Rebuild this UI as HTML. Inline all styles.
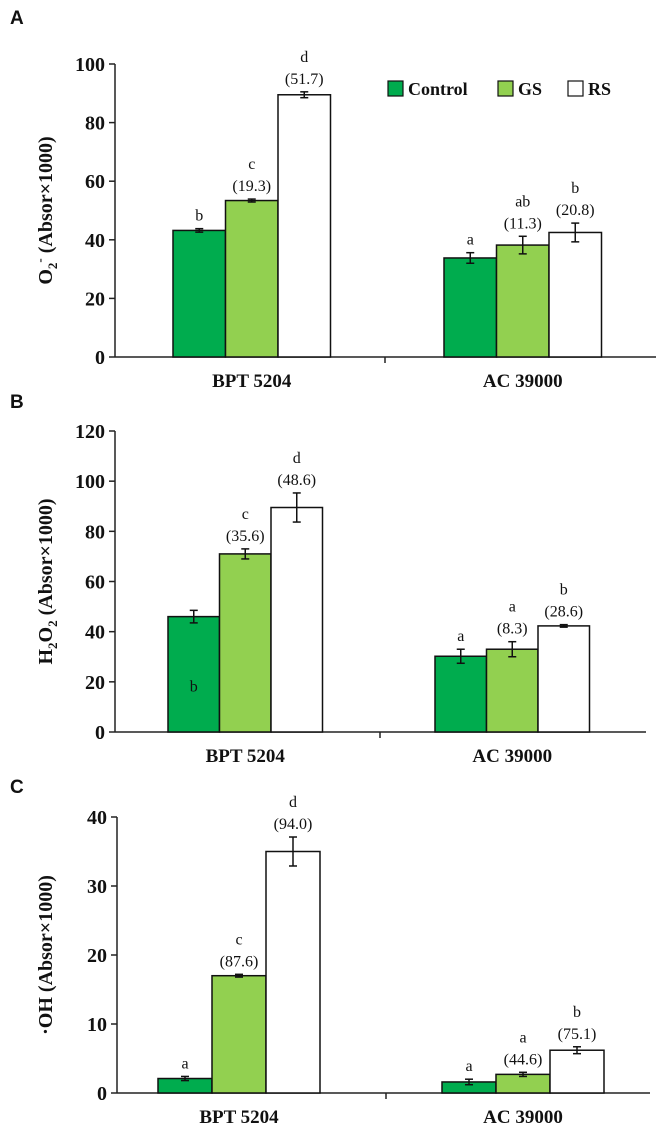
<!DOCTYPE html>
<html><head><meta charset="utf-8"><style>
body{margin:0;background:#fff;}
svg{display:block;font-family:"Liberation Serif",serif;}
</style></head><body>
<svg id="fig" width="661" height="1135" viewBox="0 0 661 1135"></svg>
<script>
const categories = ["BPT 5204", "AC 39000"];
const seriesNames = ["Control", "GS", "RS"];
const colors = ["#00AC4E", "#92D050", "#ffffff"];
// Panel A (O2-)
const aValues = [[43.2, 33.8], [53.4, 38.2], [89.5, 42.5]];
const aErrors = [[0.6, 1.8], [0.5, 3.0], [1.0, 3.2]];
const aLetters = [["b", "a"], ["c", "ab"], ["d", "b"]];
const aPct = [["", ""], ["(19.3)", "(11.3)"], ["(51.7)", "(20.8)"]];
const aTicks = [0, 20, 40, 60, 80, 100];
// Panel B (H2O2)
const bValues = [[46, 30.2], [71, 33], [89.5, 42.3]];
const bErrors = [[2.5, 2.8], [2.0, 3.0], [5.8, 0.5]];
const bLetters = [["b", "a"], ["c", "a"], ["d", "b"]];
const bPct = [["", ""], ["(35.6)", "(8.3)"], ["(48.6)", "(28.6)"]];
const bTicks = [0, 20, 40, 60, 80, 100, 120];
// Panel C (OH)
const cValues = [[2.1, 1.6], [17, 2.7], [35, 6.2]];
const cErrors = [[0.3, 0.4], [0.2, 0.3], [2.1, 0.5]];
const cLetters = [["a", "a"], ["c", "a"], ["d", "b"]];
const cPct = [["", ""], ["(87.6)", "(44.6)"], ["(94.0)", "(75.1)"]];
const cTicks = [0, 10, 20, 30, 40];

const svg = document.getElementById('fig');
const NS = 'http://www.w3.org/2000/svg';
function mk(tag, attrs, parent, name, inter) {
  const e = document.createElementNS(NS, tag);
  for (const k in attrs) e.setAttribute(k, attrs[k]);
  
  
  (parent || svg).appendChild(e);
  return e;
}
function txt(x, y, s, size, weight, anchor, name, parent) {
  const t = mk('text', {x: x, y: y, 'font-size': size, 'font-weight': weight, 'text-anchor': anchor || 'middle', fill: '#111'}, parent, name, false);
  t.textContent = s;
  return t;
}

function panel(p) {
  const g = mk('g', {}, svg, 'panel-' + p.id, false);
  const yS = v => p.y0 - (v - 0) / p.max * (p.y0 - p.yTop);
  txt(p.lx, p.ly, p.id, 19, 'bold', 'start', 'panel-label-' + p.id, g).setAttribute('font-family', 'Liberation Sans, sans-serif');
  mk('line', {x1: p.ax, y1: p.yTop, x2: p.ax, y2: p.y0, stroke: '#222', 'stroke-width': 1.5}, g, 'y-axis', false);
  mk('line', {x1: p.ax, y1: p.y0, x2: p.axEnd, y2: p.y0, stroke: '#222', 'stroke-width': 1.5}, g, 'x-axis', false);
  mk('line', {x1: p.mid, y1: p.y0, x2: p.mid, y2: p.y0 + 6, stroke: '#222', 'stroke-width': 1.5}, g, 'x-axis-divider-tick', false);
  p.ticks.forEach(t => {
    const y = yS(t);
    mk('line', {x1: p.ax - 6, y1: y, x2: p.ax, y2: y, stroke: '#222', 'stroke-width': 1.5}, g, 'y-tick', false);
    txt(p.ax - 10, y + 7, String(t), 20, 'bold', 'end', 'y-tick-label', g);
  });
  const tt = mk('text', {transform: `translate(${p.tx},${(p.yTop + p.y0) / 2}) rotate(-90)`, 'font-size': 20, 'font-weight': 'bold', 'text-anchor': 'middle', fill: '#111'}, g, 'y-axis-title', false);
  tt.innerHTML = p.title;
  categories.forEach((c, ci) => {
    const bw = p.bw;
    const start = p.starts[ci];
    seriesNames.forEach((s, si) => {
      const v = p.values[si][ci], e = p.errors[si][ci];
      const x = start + si * bw, y = yS(v);
      mk('rect', {x: x, y: y, width: bw, height: p.y0 - y, fill: colors[si], stroke: '#111', 'stroke-width': 1.5}, g, 'bar-' + s.toLowerCase() + '-' + ci, false);
      const cx = x + bw / 2, yh = yS(v + e), yl = yS(v - e);
      mk('line', {x1: cx, y1: yh, x2: cx, y2: yl, stroke: '#111', 'stroke-width': 1.5}, g, 'error-bar', false);
      mk('line', {x1: cx - 4, y1: yh, x2: cx + 4, y2: yh, stroke: '#111', 'stroke-width': 1.5}, g, 'error-cap', false);
      mk('line', {x1: cx - 4, y1: yl, x2: cx + 4, y2: yl, stroke: '#111', 'stroke-width': 1.5}, g, 'error-cap', false);
      const pct = p.pct[si][ci];
      const top = yh - 8;
      if (p.id === 'B' && si === 0 && ci === 0) {
        txt(cx, yS(v) + 75, p.letters[si][ci], 16, 'normal', 'middle', 'significance-letter', g);
      } else if (pct) {
        txt(cx, top, pct, 16, 'normal', 'middle', 'percent-change-label', g);
        txt(cx, top - 22, p.letters[si][ci], 16, 'normal', 'middle', 'significance-letter', g);
      } else {
        txt(cx, top, p.letters[si][ci], 16, 'normal', 'middle', 'significance-letter', g);
      }
    });
    txt(start + 1.5 * bw, p.y0 + 30, c, 19, 'bold', 'middle', 'x-category-label', g);
  });
}

panel({id: 'A', lx: 10, ly: 24, ax: 115, axEnd: 656, mid: 385, yTop: 64, y0: 357, max: 100, ticks: aTicks,
  values: aValues, errors: aErrors, letters: aLetters, pct: aPct, starts: [173, 444], bw: 52.5, tx: 52,
  title: 'O<tspan font-size="13" dy="5">2</tspan><tspan font-size="13" dy="-13">-</tspan><tspan dy="8"> (Absor×1000)</tspan>'});
panel({id: 'B', lx: 10, ly: 408, ax: 115, axEnd: 646, mid: 380, yTop: 431, y0: 732, max: 120, ticks: bTicks,
  values: bValues, errors: bErrors, letters: bLetters, pct: bPct, starts: [168, 435], bw: 51.5, tx: 52,
  title: 'H<tspan font-size="13" dy="5">2</tspan><tspan dy="-5">O</tspan><tspan font-size="13" dy="5">2</tspan><tspan dy="-5"> (Absor×1000)</tspan>'});
panel({id: 'C', lx: 10, ly: 793, ax: 117, axEnd: 650, mid: 386, yTop: 817, y0: 1093, max: 40, ticks: cTicks,
  values: cValues, errors: cErrors, letters: cLetters, pct: cPct, starts: [158, 442], bw: 54, tx: 52,
  title: '·OH (Absor×1000)'});

const lg = mk('g', {}, svg, 'legend', false);
const lx = [388, 498, 568], ll = ['Control', 'GS', 'RS'];
ll.forEach((s, i) => {
  mk('rect', {x: lx[i], y: 81, width: 15, height: 15, fill: colors[i], stroke: '#111', 'stroke-width': 1.2}, lg, 'legend-swatch-' + s.toLowerCase(), false);
  txt(lx[i] + 20, 95, s, 18, 'bold', 'start', 'legend-entry-' + s.toLowerCase(), lg);
});
</script>
</body></html>
